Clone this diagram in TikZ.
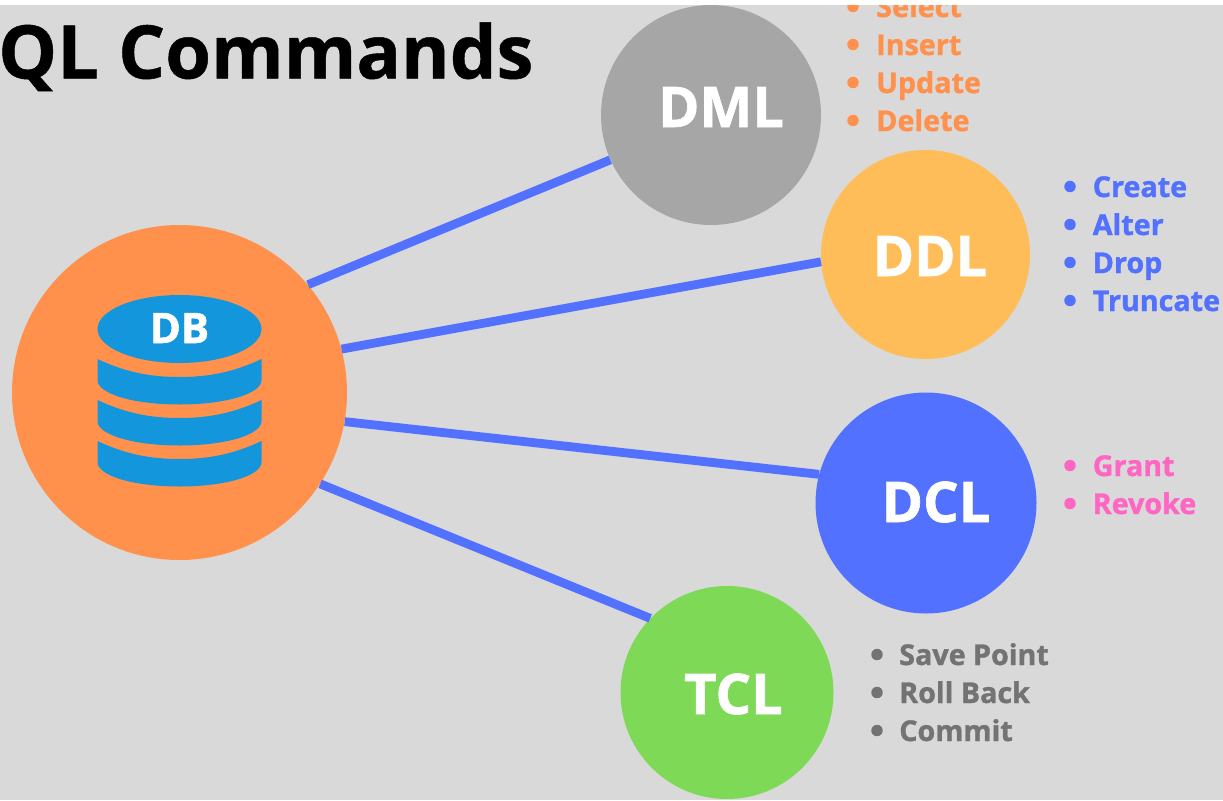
\documentclass[tikz,border=0pt]{standalone}
\usepackage{fontspec}
\setmainfont{Open Sans}
\definecolor{bgc}{HTML}{D9D9D9}
\definecolor{dbc}{HTML}{FF914D}
\definecolor{dmlc}{HTML}{A6A6A6}
\definecolor{ddlc}{HTML}{FFBD59}
\definecolor{dclc}{HTML}{5271FF}
\definecolor{tclc}{HTML}{7ED957}
\definecolor{cylc}{HTML}{1496DC}
\definecolor{pinkc}{HTML}{FF66C4}
\definecolor{greyt}{HTML}{737373}
\newfontface\heavyface[FakeBold=1.2]{Open Sans Bold}
\newfontface\titleface[FakeBold=0.6]{Open Sans Bold}
\tikzset{
  hub/.style={circle,inner sep=0pt,minimum size=#1*0.75pt},
  biglabel/.style={anchor=base,text=white,inner sep=0pt,font=\fontsize{42}{42}\heavyface},
  listtext/.style={anchor=base west,inner sep=0pt,font=\fontsize{21.5}{22}\heavyface},
  dotmark/.style={circle,inner sep=0pt,minimum size=8.6pt},
  link/.style={draw=dclc,line width=6.6pt},
  band/.style={fill=cylc}
}
\begin{document}
\begin{tikzpicture}[x=0.75pt,y=-0.75pt]
\useasboundingbox (0,0) rectangle (1223,800);
\clip (0,5) rectangle (1223,800);
\fill[bgc] (0,5) rectangle (1223,800);
\node[hub=335,fill=dbc] (db) at (179.5,392.5) {};
\node[hub=220,fill=dmlc] (dml) at (711,115) {};
\node[hub=209,fill=ddlc] (ddl) at (925.5,254.5) {};
\node[hub=221,fill=dclc] (dcl) at (926,503) {};
\node[hub=213,fill=tclc] (tcl) at (727,692.5) {};
\draw[link] (db.40) -- (dml.204.4);
\draw[link] (db.15.1) -- (ddl.184.4);
\draw[link] (db.-10) -- (dcl.165);
\draw[link] (db.-33.8) -- (tcl.136.5);
% cylinder
\fill[band] (179.5,329) ellipse [x radius=82,y radius=34];
\foreach \t/\b in {359/380,400/421,441/462}{
  \fill[band] (97.5,\t) .. controls (125,\t+13) and (150,\t+18) .. (179.5,\t+18)
    .. controls (209,\t+18) and (234,\t+13) .. (261.5,\t)
    -- (261.5,\b) .. controls (261.5,\b+14) and (225,\b+24.5) .. (179.5,\b+24.5)
    .. controls (134,\b+24.5) and (97.5,\b+14) .. (97.5,\b) -- cycle;
}
\node[anchor=base,text=white,inner sep=0pt,font=\fontsize{31.5}{32}\heavyface] (dbt) at (179.5,343) {DB};
\node[anchor=base west,inner sep=0pt,font=\fontsize{55.5}{56}\titleface] (title) at (-2,78.5) {QL Commands};
\node[biglabel] (dmlt) at (721,127) {DML};
\node[biglabel] (ddlt) at (930,276) {DDL};
\node[biglabel] (dclt) at (936,522) {DCL};
\node[biglabel] (tclt) at (733.5,714) {TCL};
\foreach \n/\y/\c/\bx/\tx/\lab in {
  a/17/dbc/853/876/Select,
  b/55/dbc/853/876/Insert,
  c/93/dbc/853/876/Update,
  d/131/dbc/853/876/Delete,
  e/197/dclc/1070/1092.5/Create,
  f/235/dclc/1070/1092.5/Alter,
  g/273/dclc/1070/1092.5/Drop,
  h/311/dclc/1070/1092.5/Truncate,
  i/476/pinkc/1070/1092.5/Grant,
  j/514/pinkc/1070/1092.5/Revoke,
  k/665/greyt/877/899/Save Point,
  l/703/greyt/877/899/Roll Back,
  m/741/greyt/877/899/Commit}{
  \node[dotmark,fill=\c] (dot\n) at (\bx,\y-10.5) {};
  \node[listtext,text=\c] (txt\n) at (\tx,\y) {\lab};
}
\end{tikzpicture}
\end{document}
